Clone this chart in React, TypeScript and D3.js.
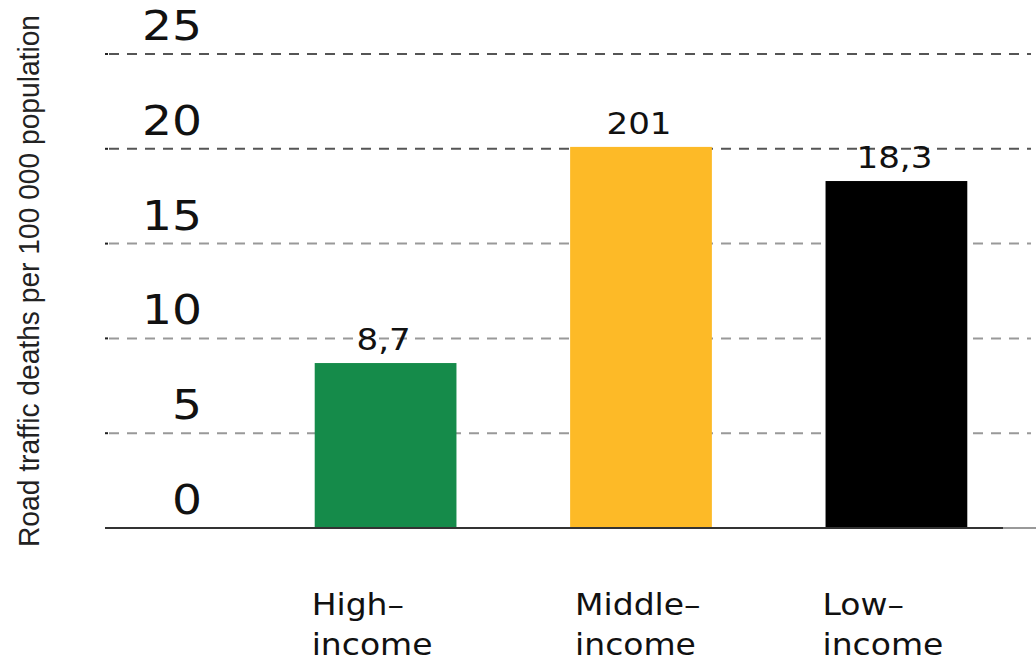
import React, { useEffect, useRef } from 'react';
import * as d3 from 'd3';

// income groups, values and printed bar labels as they appear on the chart
const categories: string[] = ['High-income', 'Middle-income', 'Low-income'];
const categoryLines: string[][] = [
  ['High–', 'income'],
  ['Middle–', 'income'],
  ['Low–', 'income'],
];
const deathRates: number[] = [8.7, 20.1, 18.3];
const valueLabels: string[] = ['8,7', '201', '18,3'];
const barColors: string[] = ['#158b4a', '#fdba27', '#000000'];
const yTicks: number[] = [0, 5, 10, 15, 20, 25];
const yTitle = 'Road traffic deaths per 100 000 population';

const WIDTH = 1036;
const HEIGHT = 661;

const App: React.FC = () => {
  const svgRef = useRef<SVGSVGElement | null>(null);

  useEffect(() => {
    document.body.style.margin = '0';
    if (!svgRef.current) return;
    const svg = d3.select(svgRef.current);
    svg.selectAll('*').remove();

    const plotLeft = 105;
    const plotRight = 1031;
    const axisRight = 1003;

    const y = d3.scaleLinear().domain([0, 25]).range([528, 54]);
    const x = d3
      .scaleBand<string>()
      .domain(categories)
      .range([187, 1095])
      .paddingInner(0.445)
      .paddingOuter(0.5);

    // dashed gridlines
    const grid = svg.append('g');
    grid
      .selectAll('line')
      .data(yTicks.filter((t) => t > 0))
      .enter()
      .append('line')
      .attr('x1', plotLeft + 4)
      .attr('x2', plotRight)
      .attr('y1', (d) => y(d))
      .attr('y2', (d) => y(d))
      .attr('stroke', (d) => (d >= 20 ? '#555' : '#999'))
      .attr('stroke-width', 2)
      .attr('stroke-dasharray', '10 8');
    // tiny tick dots at the left end
    grid
      .selectAll('rect')
      .data(yTicks.filter((t) => t > 0))
      .enter()
      .append('rect')
      .attr('x', plotLeft)
      .attr('y', (d) => y(d) - 1)
      .attr('width', 3)
      .attr('height', 2)
      .attr('fill', '#222');

    // tick labels
    svg
      .append('g')
      .selectAll('g')
      .data(yTicks)
      .enter()
      .append('g')
      .attr('transform', (d) => `translate(202,${y(d) - 14}) scale(1.18,1)`)
      .append('text')
      .attr('text-anchor', 'end')
      .attr('font-family', 'DejaVu Sans, Verdana, sans-serif')
      .attr('font-size', 40)
      .attr('fill', '#111')
      .text((d) => String(d));

    // bars
    svg
      .append('g')
      .selectAll('rect')
      .data(deathRates)
      .enter()
      .append('rect')
      .attr('x', (_, i) => x(categories[i]) as number)
      .attr('y', (d) => y(d))
      .attr('width', x.bandwidth())
      .attr('height', (d) => y(0) - y(d))
      .attr('fill', (_, i) => barColors[i]);

    // value labels
    svg
      .append('g')
      .selectAll('g')
      .data(deathRates)
      .enter()
      .append('g')
      .attr(
        'transform',
        (d, i) =>
          `translate(${(x(categories[i]) as number) + x.bandwidth() / 2 - 2},${y(d) - 13}) scale(1.1,1)`
      )
      .append('text')
      .attr('text-anchor', 'middle')
      .attr('font-family', 'DejaVu Sans, Verdana, sans-serif')
      .attr('font-size', 31)
      .attr('fill', '#111')
      .text((_, i) => valueLabels[i]);

    // baseline
    svg
      .append('line')
      .attr('x1', plotLeft)
      .attr('x2', axisRight)
      .attr('y1', y(0))
      .attr('y2', y(0))
      .attr('stroke', '#333')
      .attr('stroke-width', 2);
    svg
      .append('line')
      .attr('x1', axisRight)
      .attr('x2', WIDTH)
      .attr('y1', y(0))
      .attr('y2', y(0))
      .attr('stroke', '#999')
      .attr('stroke-width', 2);

    // category labels, two lines each, left aligned near the bar
    const cat = svg
      .append('g')
      .selectAll('g')
      .data(categories)
      .enter()
      .append('g')
      .attr('transform', (d, i) => `translate(${(x(d) as number) + (i === 1 ? 5 : -3)},615) scale(1.1,1)`);
    cat
      .append('text')
      .attr('font-family', 'DejaVu Sans, Verdana, sans-serif')
      .attr('font-size', 30)
      .attr('fill', '#111')
      .selectAll('tspan')
      .data((_, i) => categoryLines[i])
      .enter()
      .append('tspan')
      .attr('x', 0)
      .attr('dy', (_, j) => (j === 0 ? 0 : 40))
      .text((t) => t);

    // y axis title
    svg
      .append('text')
      .attr('transform', 'translate(39,281) rotate(-90)')
      .attr('text-anchor', 'middle')
      .attr('font-family', 'Liberation Sans Narrow, Arial Narrow, Liberation Sans, sans-serif')
      .attr('font-size', 29)
      .attr('textLength', 532)
      .attr('lengthAdjust', 'spacingAndGlyphs')
      .attr('fill', '#222')
      .text(yTitle);
  }, []);

  return <svg ref={svgRef} width={WIDTH} height={HEIGHT} style={{ display: 'block', background: '#fff' }} />;
};

export default App;
